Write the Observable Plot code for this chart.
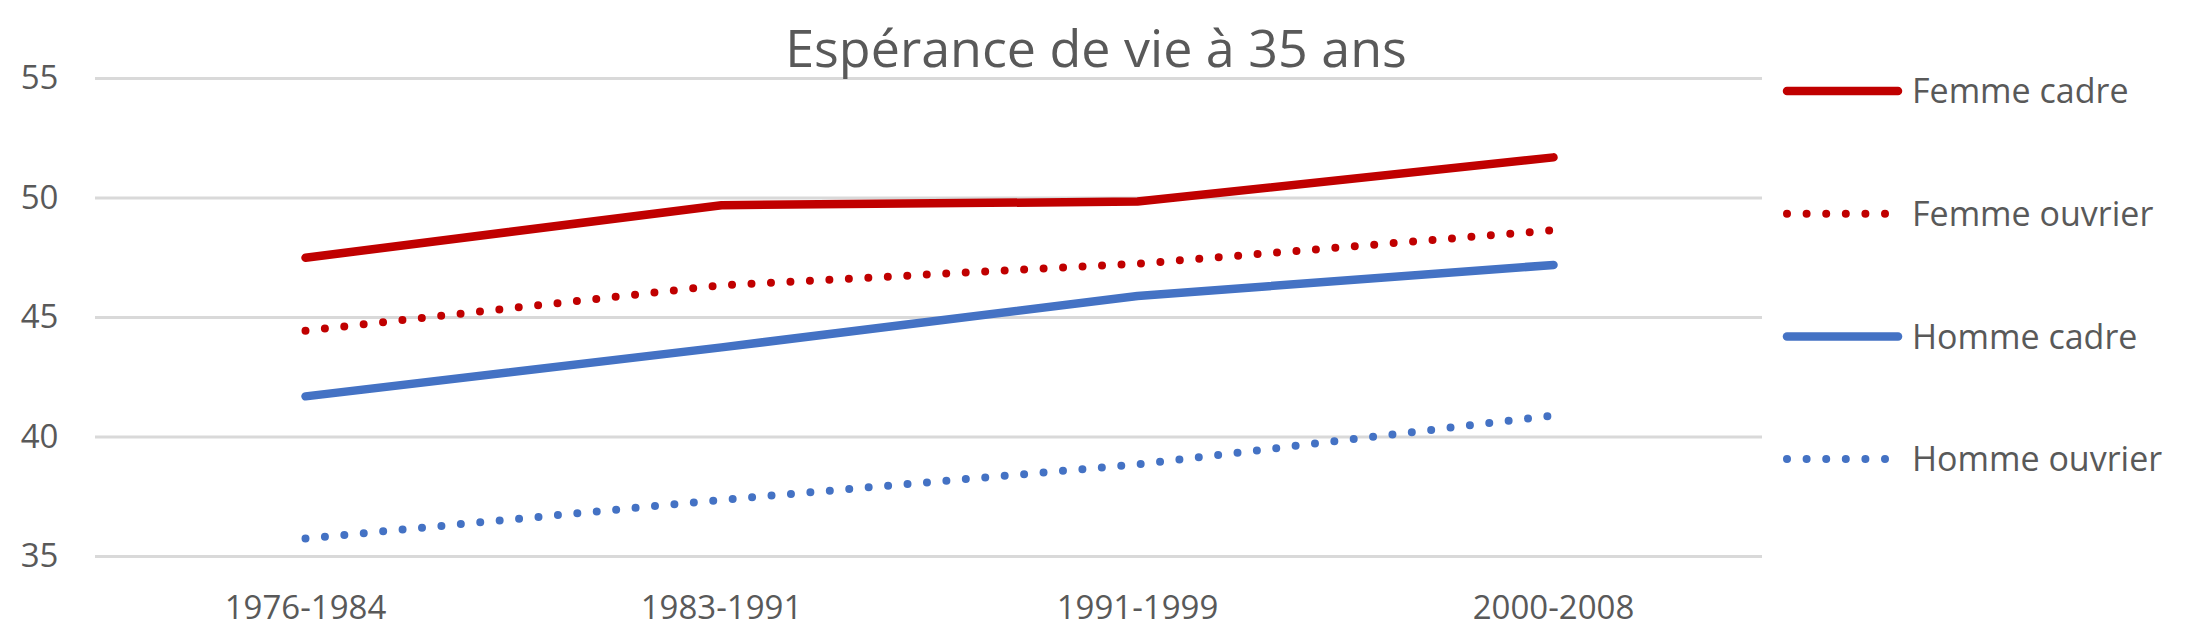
<!DOCTYPE html>
<html>
<head>
<meta charset="utf-8">
<script src="https://cdn.jsdelivr.net/npm/d3@7"></script>
<script src="https://cdn.jsdelivr.net/npm/@observablehq/plot@0.6"></script>
<style>
  html, body { margin: 0; padding: 0; background: #fff; }
  #wrap { position: relative; width: 2200px; height: 644px; font-family: "Open Sans", sans-serif; }
  #wrap > svg { position: absolute; left: 0; top: 0; }
</style>
</head>
<body>
<div id="wrap"></div>
<script>
const title = "Espérance de vie à 35 ans";
const categories = ["1976-1984", "1983-1991", "1991-1999", "2000-2008"];
const yTicks = [35, 40, 45, 50, 55];
const seriesNames = ["Femme cadre", "Femme ouvrier", "Homme cadre", "Homme ouvrier"];
const seriesColors = ["#C00000", "#C00000", "#4472C4", "#4472C4"];
const seriesDotted = [false, true, false, true];
const femmeCadre = [47.5, 49.7, 49.85, 51.7];
const femmeOuvrier = [44.45, 46.35, 47.25, 48.65];
const hommeCadre = [41.7, 43.75, 45.9, 47.2];
const hommeOuvrier = [35.75, 37.37, 38.85, 40.9];

const values = [femmeCadre, femmeOuvrier, hommeCadre, hommeOuvrier];
const rows = [];
seriesNames.forEach((s, i) => categories.forEach((c, j) => rows.push({serie: s, cat: c, v: values[i][j]})));

const textColor = "#595959";
const fontSize = 33;

const marks = [
  Plot.gridY(yTicks, {stroke: "#d9d9d9", strokeOpacity: 1, strokeWidth: 3}),
  Plot.axisY(yTicks, {tickSize: 0, tickPadding: 37, fontSize, fill: textColor}),
  Plot.axisX({tickSize: 0, tickPadding: 39, fontSize, fill: textColor})
];
seriesNames.forEach((s, i) => {
  marks.push(Plot.line(rows.filter(d => d.serie === s), {
    x: "cat", y: "v",
    stroke: seriesColors[i],
    strokeWidth: seriesDotted[i] ? 8 : 8.5,
    strokeLinecap: "round",
    strokeLinejoin: "round",
    strokeDasharray: seriesDotted[i] ? "0 19.5" : null
  }));
});

const chart = Plot.plot({
  width: 2200,
  height: 644,
  marginLeft: 95,
  marginRight: 438,
  marginTop: 78,
  marginBottom: 88,
  style: {fontFamily: "Open Sans", fontSize: fontSize + "px", color: textColor, background: "#fff"},
  x: {type: "point", domain: categories, padding: 0.5, label: null},
  y: {domain: [35, 55], label: null},
  marks
});
document.getElementById("wrap").appendChild(chart);

// Title and legend overlay
const ov = d3.select("#wrap").append("svg")
  .attr("width", 2200).attr("height", 644)
  .style("pointer-events", "none")
  .style("font-family", "Open Sans");

ov.append("text")
  .attr("x", 1096).attr("y", 67)
  .attr("text-anchor", "middle")
  .attr("font-size", 52)
  .attr("fill", textColor)
  .text(title);

const lg = ov.append("g");
seriesNames.forEach((s, i) => {
  const y = 91 + i * 122.7;
  if (seriesDotted[i]) {
    lg.append("line").attr("x1", 1787).attr("x2", 1886).attr("y1", y).attr("y2", y)
      .attr("stroke", seriesColors[i]).attr("stroke-width", 8)
      .attr("stroke-linecap", "round").attr("stroke-dasharray", "0 19.6");
  } else {
    lg.append("line").attr("x1", 1787).attr("x2", 1898).attr("y1", y).attr("y2", y)
      .attr("stroke", seriesColors[i]).attr("stroke-width", 8.5)
      .attr("stroke-linecap", "round");
  }
  lg.append("text").attr("x", 1912).attr("y", y).attr("dy", "0.36em")
    .attr("font-size", 34).attr("fill", textColor).text(s);
});
</script>
</body>
</html>
